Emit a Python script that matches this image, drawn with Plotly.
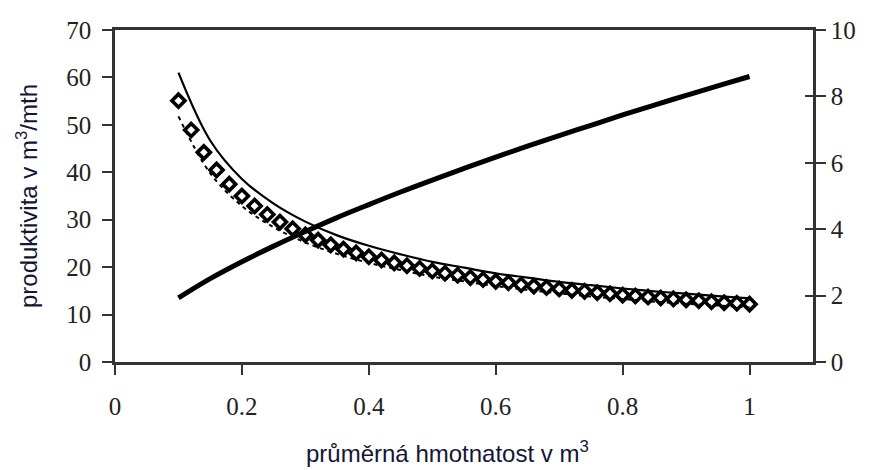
import plotly.graph_objects as go

# ---- data ----
x_markers = [0.10, 0.12, 0.14, 0.16, 0.18, 0.20, 0.22, 0.24, 0.26, 0.28,
             0.30, 0.32, 0.34, 0.36, 0.38, 0.40, 0.42, 0.44, 0.46, 0.48,
             0.50, 0.52, 0.54, 0.56, 0.58, 0.60, 0.62, 0.64, 0.66, 0.68,
             0.70, 0.72, 0.74, 0.76, 0.78, 0.80, 0.82, 0.84, 0.86, 0.88,
             0.90, 0.92, 0.94, 0.96, 0.98, 1.00]
y_markers = [55.1, 48.9, 44.2, 40.5, 37.5, 35.0, 32.9, 31.1, 29.5, 28.1,
             26.8, 25.7, 24.7, 23.8, 23.0, 22.2, 21.5, 20.9, 20.3, 19.7,
             19.2, 18.7, 18.3, 17.8, 17.4, 17.0, 16.7, 16.3, 16.0, 15.7,
             15.4, 15.1, 14.9, 14.6, 14.4, 14.1, 13.9, 13.7, 13.5, 13.3,
             13.1, 12.9, 12.7, 12.5, 12.4, 12.2]

x_lines = [0.10, 0.15, 0.20, 0.25, 0.30, 0.35, 0.40, 0.45, 0.50, 0.55,
           0.60, 0.65, 0.70, 0.75, 0.80, 0.85, 0.90, 0.95, 1.00]
y_thin = [61.0, 46.7, 38.6, 33.4, 29.6, 26.7, 24.5, 22.7, 21.1, 19.9,
          18.7, 17.8, 16.9, 16.2, 15.5, 14.9, 14.4, 13.9, 13.4]
y_dashed = [51.8, 39.8, 32.9, 28.4, 25.2, 22.8, 20.9, 19.4, 18.0, 17.0,
            16.0, 15.2, 14.5, 13.8, 13.3, 12.7, 12.3, 11.9, 11.5]
y_thick_right = [1.93, 2.51, 3.02, 3.49, 3.93, 4.35, 4.74, 5.12, 5.48, 5.83,
                 6.17, 6.50, 6.82, 7.13, 7.44, 7.74, 8.03, 8.32, 8.60]

x_tickvals = [0, 0.2, 0.4, 0.6, 0.8, 1]
x_ticktext = ["0", "0.2", "0.4", "0.6", "0.8", "1"]
y_left_ticks = [0, 10, 20, 30, 40, 50, 60, 70]
y_right_ticks = [0, 2, 4, 6, 8, 10]

x_title = "průměrná hmotnatost v m<sup>3</sup>"
y_title = "produktivita v m<sup>3</sup>/mth"

# ---- figure ----
AX = "#333333"
TICKFONT = dict(family="Liberation Serif", size=25, color="#222222")
TITLEFONT = dict(family="Liberation Sans", size=24, color="#151535")

fig = go.Figure()
fig.add_trace(go.Scatter(x=x_lines, y=y_dashed, mode="lines", line_shape="spline",
                         line=dict(color="black", width=2, dash="4px,4px"),
                         showlegend=False, hoverinfo="skip"))
fig.add_trace(go.Scatter(x=x_markers, y=y_markers, mode="markers",
                         marker=dict(symbol="diamond-open", size=10, color="black",
                                     line=dict(width=3.6, color="black")),
                         showlegend=False))
fig.add_trace(go.Scatter(x=x_lines, y=y_thin, mode="lines", line_shape="spline",
                         line=dict(color="black", width=2.2), showlegend=False))
fig.add_trace(go.Scatter(x=x_lines, y=y_thick_right, mode="lines", line_shape="spline",
                         line=dict(color="black", width=5), yaxis="y2",
                         showlegend=False))
# invisible trace to show the inner half of the right axis ticks
fig.add_trace(go.Scatter(x=[x_lines[0]], y=[y_thick_right[0]], mode="markers",
                         marker=dict(opacity=0), yaxis="y3", showlegend=False,
                         hoverinfo="skip"))

fig.update_layout(
    width=862, height=462,
    margin=dict(l=107, r=57, t=22, b=108, autoexpand=False),
    paper_bgcolor="white", plot_bgcolor="white",
    xaxis=dict(range=[0, 1.1], tickvals=x_tickvals, ticktext=x_ticktext,
               showgrid=False, zeroline=False, automargin=False,
               showline=True, linecolor=AX, linewidth=2.5, mirror=True,
               ticks="outside", ticklen=10, tickwidth=1.5, tickcolor=AX,
               tickfont=TICKFONT, ticklabelstandoff=10),
    yaxis=dict(range=[0, 70], tickvals=y_left_ticks,
               showgrid=False, zeroline=False, automargin=False,
               showline=True, linecolor=AX, linewidth=2.5,
               ticks="outside", ticklen=10, tickwidth=1.5, tickcolor=AX,
               tickfont=TICKFONT, ticklabelstandoff=6),
    yaxis2=dict(range=[0, 10], tickvals=y_right_ticks, overlaying="y", side="right",
                anchor="x", showgrid=False, zeroline=False, automargin=False,
                showline=True, linecolor=AX, linewidth=2.5,
                ticks="outside", ticklen=10, tickwidth=1.5, tickcolor=AX,
                tickfont=TICKFONT, tickprefix="\u2002"),
    yaxis3=dict(range=[0, 10], tickvals=y_right_ticks, overlaying="y", side="right",
                anchor="x", showgrid=False, zeroline=False, showline=False,
                automargin=False,
                ticks="inside", ticklen=8, tickwidth=1.5, tickcolor=AX,
                showticklabels=False),
    annotations=[
        dict(text=x_title, xref="paper", yref="paper", x=0.476, y=-0.27,
             xanchor="center", yanchor="middle", showarrow=False, font=TITLEFONT),
        dict(text=y_title, xref="paper", yref="paper", x=-0.126, y=0.5,
             xanchor="center", yanchor="middle", textangle=-90, showarrow=False,
             font=TITLEFONT),
    ],
)

fig.write_html("out.html")
